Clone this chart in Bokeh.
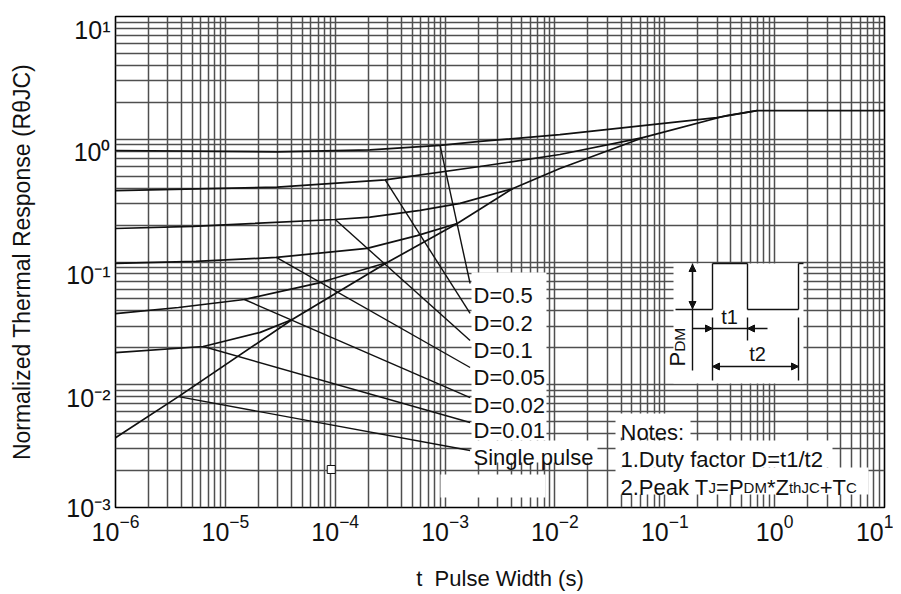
from math import pi
from bokeh.plotting import figure
from bokeh.models import FixedTicker, Label, BoxAnnotation, Arrow, NormalHead, Range1d
from bokeh.embed import file_html
from bokeh.resources import INLINE

# ---------------- data ----------------
x_major = [1e-6, 1e-5, 1e-4, 1e-3, 1e-2, 1e-1, 1e0, 1e1]
y_major = [1e-3, 1e-2, 1e-1, 1e0, 1e1]
y_tick_labels = ["10\u207b\u00b3", "10\u207b\u00b2", "10\u207b\u00b9", "10\u2070", "10\u00b9"]
# in the reference the upper four y labels sit ~0.106 decade below their gridline
y_label_drop = [0.0, 0.106, 0.106, 0.106, 0.106]
mantissas = [2, 3, 4, 5, 6, 7, 8, 9]

single_t = [1e-6, 3.74e-6, 4.06e-5, 2.97e-4, 1.29e-3, 4.15e-3, 1.11e-2, 6.3e-2, 3.66e-1, 6.9e-1, 1e1]
single_z = [0.0037, 0.0080, 0.034, 0.099, 0.206, 0.397, 0.578, 1.03, 1.56, 1.71, 1.71]

d05_t = [1e-6, 2.97e-5, 2.08e-4, 9.0e-4, 2.08e-3, 1.11e-2, 2.97e-1, 6.9e-1]
d05_z = [0.81, 0.79, 0.82, 0.89, 0.96, 1.09, 1.50, 1.71]

d02_t = [1e-6, 2.97e-5, 2.85e-4, 2.08e-3, 1.11e-2, 6.3e-2]
d02_z = [0.382, 0.407, 0.467, 0.600, 0.751, 1.03]

d01_t = [1e-6, 5.1e-6, 1.0e-4, 2.08e-4, 5.93e-4, 1.37e-3, 4.15e-3]
d01_z = [0.1875, 0.195, 0.222, 0.232, 0.263, 0.30, 0.397]

d005_t = [1e-6, 5.4e-6, 2.91e-5, 1.95e-4, 5.56e-4, 1.29e-3]
d005_z = [0.0973, 0.101, 0.109, 0.129, 0.164, 0.206]

d002_t = [1e-6, 3.74e-6, 1.49e-5, 7.3e-5, 2.97e-4]
d002_z = [0.038, 0.0426, 0.0495, 0.068, 0.099]

d001_t = [1e-6, 6.3e-6, 2.08e-5, 4.06e-5]
d001_z = [0.0183, 0.0205, 0.0267, 0.034]

curve_labels = ["D=0.5", "D=0.2", "D=0.1", "D=0.05", "D=0.02", "D=0.01", "Single pulse"]
leader_t = [9.0e-4, 2.85e-4, 1.0e-4, 2.91e-5, 1.49e-5, 6.3e-6, 3.74e-6]
leader_z = [0.89, 0.467, 0.222, 0.109, 0.0495, 0.0205, 0.0080]
leader_end_t = [1.69e-3] * 7
leader_end_z = [0.0668, 0.0381, 0.0229, 0.01382, 0.00787, 0.00493, 0.00291]

stray_t = [9.2e-5]
stray_z = [0.00204]

# ---------------- helpers for annotation placement ----------------
FL, FT, FW, FH = 115, 16, 769, 491   # frame position on the page (px)


def xd(px):
    return 10 ** (-6 + 7 * (px - FL) / FW)


def yd(py):
    return 10 ** (1 - 4 * (py - FT) / FH)


W = {' ': 278, '.': 278, '(': 333, ')': 333, '*': 389, '+': 584, '=': 584, '/': 278,
     ':': 278, '0': 556, '1': 556, '2': 556, '3': 556, '4': 556, '5': 556,
     'C': 722, 'D': 722, 'J': 500, 'M': 833, 'N': 722, 'P': 667, 'R': 722, 'S': 667,
     'T': 611, 'W': 944, 'Z': 611, 'a': 556, 'c': 500, 'd': 556, 'e': 556, 'f': 278,
     'g': 556, 'h': 556, 'i': 222, 'k': 500, 'l': 222, 'm': 833, 'n': 556, 'o': 556,
     'p': 556, 'r': 333, 's': 500, 't': 278, 'u': 556, 'y': 500, 'z': 500}


def tw(s, size):
    return sum(W.get(c, 556) for c in s) * size / 1000.0


FONT = "Liberation Sans"
INK = "#111111"

p = figure(width=893, height=594, x_axis_type="log", y_axis_type="log",
           x_range=Range1d(1e-6, 10), y_range=Range1d(1e-3, 10),
           output_backend="svg", toolbar_location=None,
           min_border_left=115, min_border_right=9, min_border_top=16, min_border_bottom=87)
p.background_fill_color = "white"
p.border_fill_color = "white"
p.outline_line_color = "black"
p.outline_line_width = 1.6

x_minor = [m * t for t in x_major[:-1] for m in mantissas]
y_minor = [m * t for t in y_major[:-1] for m in mantissas]
xt = FixedTicker(ticks=x_major, minor_ticks=x_minor)
yt = FixedTicker(ticks=y_major, minor_ticks=y_minor)
y_label_pos = [t / 10 ** d for t, d in zip(y_major, y_label_drop)]
p.xaxis.ticker = xt
p.yaxis.ticker = FixedTicker(ticks=y_label_pos)
p.yaxis.major_label_overrides = {v: s for v, s in zip(y_label_pos, y_tick_labels)}
p.xgrid.ticker = xt
p.ygrid.ticker = yt

for ax in (p.xaxis[0], p.yaxis[0]):
    ax.major_tick_in = 0
    ax.major_tick_out = 0
    ax.minor_tick_in = 0
    ax.minor_tick_out = 0
    ax.axis_line_color = None
    ax.major_label_text_font = FONT
    ax.major_label_text_font_size = "25px"
    ax.major_label_text_color = INK
    ax.axis_label_text_font = FONT
    ax.axis_label_text_font_style = "normal"
    ax.axis_label_text_color = INK
p.xaxis.major_label_standoff = 6
p.yaxis.major_label_standoff = 5

p.xaxis.axis_label = "t\u00a0 Pulse Width (s)"
p.xaxis.axis_label_text_font_size = "22px"
p.xaxis.axis_label_standoff = 22
p.yaxis.axis_label = "Normalized Thermal Response (R\u03b8JC)"
p.yaxis.axis_label_text_font_size = "23px"
p.yaxis.axis_label_standoff = 28

for g in (p.xgrid[0], p.ygrid[0]):
    g.grid_line_color = "#4f4f4f"
    g.grid_line_width = 1.5
    g.minor_grid_line_color = "#4f4f4f"
    g.minor_grid_line_width = 1.5

# ---------------- curves ----------------
for tt, zz in [(single_t, single_z), (d05_t, d05_z), (d02_t, d02_z), (d01_t, d01_z),
               (d005_t, d005_z), (d002_t, d002_z), (d001_t, d001_z)]:
    p.line(tt, zz, line_color=INK, line_width=1.7)

p.segment(x0=leader_t, y0=leader_z, x1=leader_end_t, y1=leader_end_z,
          line_color=INK, line_width=1.4)

p.scatter(stray_t, stray_z, marker="square", size=8, fill_color="white",
          line_color=INK, line_width=1)

# ---------------- white areas ----------------
for l, r, t, b in [(471, 546, 272, 440), (471, 597, 440, 462), (440, 545, 474, 497),
                   (673, 803, 263, 383),
                   (615, 690, 413, 437), (615, 832, 440, 467), (615, 868, 467, 494)]:
    p.add_layout(BoxAnnotation(left=xd(l), right=xd(r), top=yd(t), bottom=yd(b),
                               fill_color="white", fill_alpha=1.0, line_color=None))


def lab(text, px, py, size, **kw):
    p.add_layout(Label(x=xd(px), y=yd(py), text=text, text_font=FONT,
                       text_font_size=f"{size}px", text_color=INK, level="overlay", **kw))


# curve labels
for text, base in zip(curve_labels, [295, 323, 350, 377, 405, 430, 457]):
    lab(text, 473, base, 22, text_align="left", text_baseline="alphabetic")

# notes
lab("Notes:", 620, 432, 22, text_align="left", text_baseline="alphabetic")
lab("1.Duty factor D=t1/t2", 620, 459, 22, text_align="left", text_baseline="alphabetic")
cx = 620
for part, size in [("2.Peak T", 22), ("J", 15), ("=P", 22), ("DM", 15), ("*Z", 22),
                   ("thJC", 15), ("+T", 22), ("C", 15)]:
    lab(part, cx, 487, size, text_align="left", text_baseline="alphabetic")
    cx += tw(part, size)

# ---------------- inset pulse diagram ----------------
segs = [(675, 309, 712, 309), (712, 309, 712, 263), (712, 263, 747, 263), (747, 263, 747, 309),
        (747, 309, 798, 309), (798, 309, 798, 263), (798, 263, 803, 263),
        (692, 263, 692, 370),
        (712, 317, 712, 380), (747, 317, 747, 340), (692, 328, 767, 328),
        (798, 317, 798, 380), (712, 366, 798, 366)]
r = p.segment(x0=[xd(s[0]) for s in segs], y0=[yd(s[1]) for s in segs],
              x1=[xd(s[2]) for s in segs], y1=[yd(s[3]) for s in segs],
              line_color=INK, line_width=1.4)
r.level = "overlay"

for x0, y0, x1, y1 in [(692, 286, 692, 264), (692, 286, 692, 308),
                       (700, 328, 712, 328), (760, 328, 747, 328),
                       (755, 366, 712, 366), (755, 366, 798, 366)]:
    p.add_layout(Arrow(end=NormalHead(size=7, fill_color=INK, line_color=INK),
                       x_start=xd(x0), y_start=yd(y0), x_end=xd(x1), y_end=yd(y1),
                       line_color=INK, line_width=1.2, level="overlay"))

lab("t1", 729, 316, 20, text_align="center", text_baseline="middle")
lab("t2", 757, 353, 20, text_align="center", text_baseline="middle")
lab("P", 677, 366, 22, angle=pi / 2, text_align="left", text_baseline="middle")
lab("DM", 679, 366 - tw("P", 22), 15.5, angle=pi / 2, text_align="left", text_baseline="middle")

open("out.html", "w").write(file_html(p, INLINE))
